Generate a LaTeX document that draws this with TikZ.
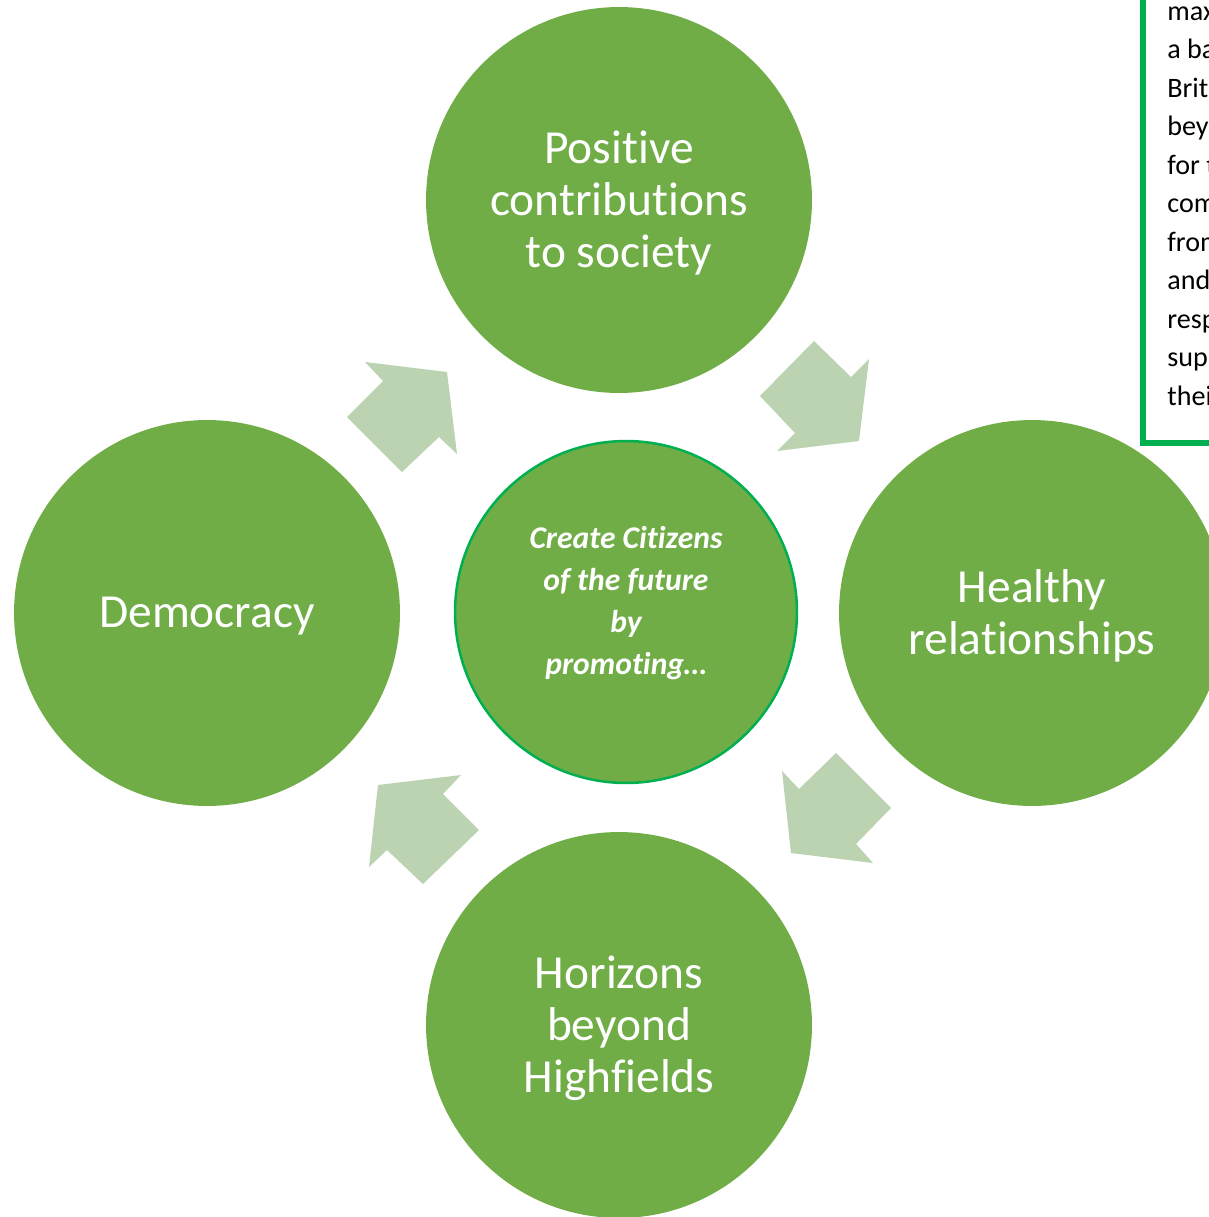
\documentclass[tikz,border=0pt]{standalone}
\usepackage{fontspec}
\setmainfont[Ligatures=NoCommon]{Carlito}
\usepackage{tikz}
\usetikzlibrary{shapes,arrows,arrows.meta}

\definecolor{leafgreen}{RGB}{112,173,71}
\definecolor{palegreen}{RGB}{187,211,177}
\definecolor{rimgreen}{RGB}{0,176,80}

\begin{document}
\begin{tikzpicture}[x=0.02cm,y=-0.02cm,
  bigcircle/.style={circle,fill=leafgreen,draw=none,minimum size=7.72cm,inner sep=0pt,
    text=white,align=center,font=\fontsize{27}{29.6}\selectfont},
  circletext/.style={text=white,align=center,font=\fontsize{27}{29.6}\selectfont},
  cyclearrow/.style={fill=palegreen,draw=none},
  boxtext/.style={anchor=base west,inner sep=0pt,font=\fontsize{16}{22}\selectfont}]
 \clip (0,0) rectangle (1209,1217);

 % cycle arrows
 \fill [cyclearrow] (814,341) -- (851,377) -- (869,359) -- (859,441) -- (777,451) -- (795,433) -- (760,396) -- cycle;
 \fill [cyclearrow] (782,771) -- (799,789) -- (836,753) -- (891,808) -- (856,844) -- (873,863) -- (791,853) -- cycle;
 \fill [cyclearrow] (461,775) -- (443,794) -- (479,830) -- (423,884) -- (387,850) -- (369,867) -- (378,785) -- cycle;
 \fill [cyclearrow] (365,362) -- (447,372) -- (457,454) -- (439,437) -- (402,472) -- (347,417) -- (383,381) -- cycle;

 % outer circles
 \node [bigcircle] (society) at (619,200) {};
 \node [bigcircle] (relations) at (1032,613) {};
 \node [bigcircle] (horizons) at (619,1025) {};
 \node [bigcircle] (democracy) at (207,613) {};
 \node [circletext] (societytext) at (619,203) {Positive\\contributions\\to society};
 \node [circletext] (relationstext) at (1032,616) {Healthy\\relationships};
 \node [circletext] (horizonstext) at (619,1028) {Horizons\\beyond\\Highfields};
 \node [circletext] (democracytext) at (207,616) {Democracy};

 % centre
 \node [circle,fill=leafgreen,draw=rimgreen,line width=0.05cm,minimum size=6.84cm,inner sep=0pt] (hub) at (626,612) {};
 \node [text=white,align=center,font=\fontsize{18}{23.8}\selectfont\bfseries\itshape] (hubtext) at (626,603)
   {Create Citizens\\of the future\\by\\promoting…};

 % text box at the right edge
 \draw [rimgreen,line width=0.12cm] (1143,-5) -- (1143,443) -- (1220,443);
 \foreach \word [count=\i] in {maximise,a balanced,British,beyond,for the,community,from,and,respect,support,their}
   \node [boxtext] (boxline\i) at (1167,{20+38.5*(\i-1)}) {\word};
\end{tikzpicture}
\end{document}
